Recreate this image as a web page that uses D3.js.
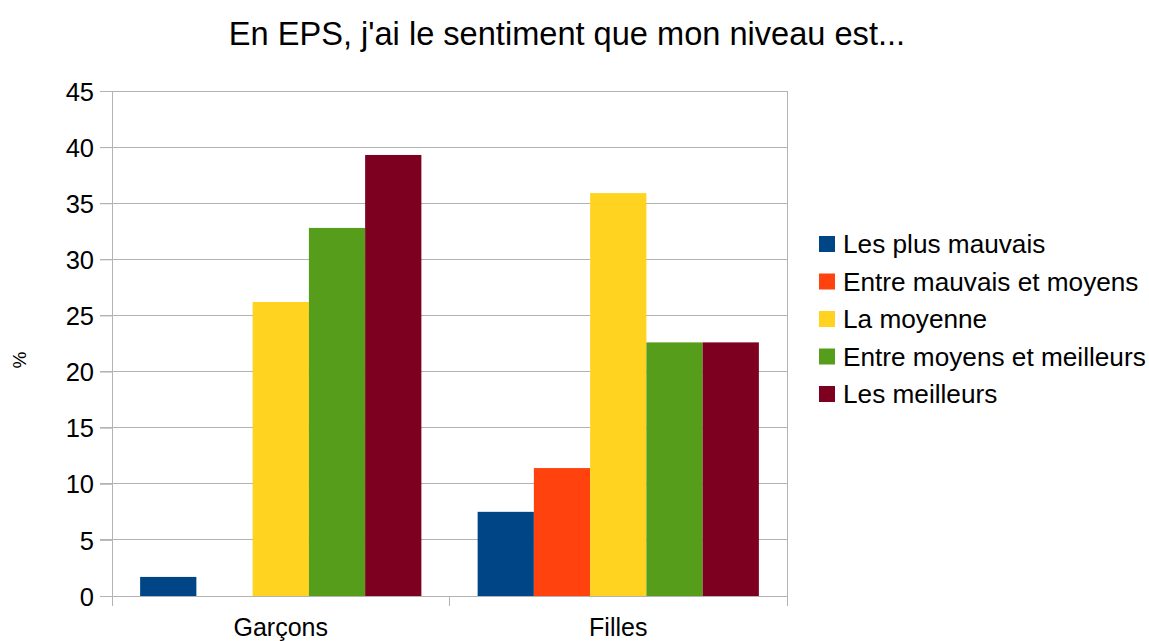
<!DOCTYPE html>
<html><head><meta charset="utf-8">
<script src="https://cdn.jsdelivr.net/npm/d3@7"></script>
<style>body{margin:0;background:#fff}text{font-family:"Liberation Sans",Arial,sans-serif;fill:#000}</style>
</head><body>
<svg id="c" width="1149" height="641"></svg>
<script>
const categories = ["Garçons", "Filles"];
const seriesNames = ["Les plus mauvais", "Entre mauvais et moyens", "La moyenne", "Entre moyens et meilleurs", "Les meilleurs"];
const garcons = [1.7, 0, 26.2, 32.8, 39.3];
const filles = [7.5, 11.4, 35.9, 22.6, 22.6];
const colors = ["#004586", "#ff420e", "#ffd320", "#579d1c", "#7e0021"];
const yTicks = [0, 5, 10, 15, 20, 25, 30, 35, 40, 45];
const title = "En EPS, j'ai le sentiment que mon niveau est...";
const yLabel = "%";

const values = [garcons, filles];
const svg = d3.select("#c");
const L = 112, R = 787, T = 91, B = 596;
const grid = "#b3b3b3";

const x = d3.scaleBand().domain(categories).range([L, R]).padding(0);
const xi = d3.scaleBand().domain(d3.range(seriesNames.length)).range([0, x.bandwidth()]).paddingInner(0).paddingOuter(0.5);
const y = d3.scaleLinear().domain([0, 45]).range([B, T]);

// gridlines
svg.append("g").selectAll("line").data(yTicks).join("line")
  .attr("x1", L - 12).attr("x2", R).attr("y1", d => y(d)).attr("y2", d => y(d))
  .attr("stroke", grid).attr("stroke-width", 1).attr("shape-rendering", "crispEdges");

// y axis
const yAxis = svg.append("g").attr("transform", `translate(${L},0)`)
  .call(d3.axisLeft(y).tickValues(yTicks).tickSize(12).tickPadding(6));
yAxis.select(".domain").remove();
yAxis.selectAll("line").attr("stroke", grid);
yAxis.selectAll("text").style("font-size", "25.5px").attr("dy", "0.36em");

// bars
const g = svg.append("g");
categories.forEach((c, ci) => {
  g.append("g").selectAll("rect").data(values[ci]).join("rect")
    .attr("x", (d, i) => x(c) + xi(i))
    .attr("width", xi.bandwidth())
    .attr("y", d => y(d))
    .attr("height", d => B - y(d))
    .attr("fill", (d, i) => colors[i]);
});

// axis lines
svg.append("line").attr("x1", L).attr("x2", L).attr("y1", T).attr("y2", B + 10).attr("stroke", grid).attr("shape-rendering", "crispEdges");
svg.append("line").attr("x1", R).attr("x2", R).attr("y1", T).attr("y2", B + 10).attr("stroke", grid).attr("shape-rendering", "crispEdges");
svg.append("line").attr("x1", L).attr("x2", R).attr("y1", B).attr("y2", B).attr("stroke", grid).attr("shape-rendering", "crispEdges");
// x axis ticks & labels
const xAxis = svg.append("g").attr("transform", `translate(0,${B})`)
  .call(d3.axisBottom(x).tickSize(0).tickPadding(0));
xAxis.select(".domain").remove();
xAxis.selectAll("text").style("font-size", "25px").attr("dy", null).attr("y", 40);
svg.append("g").selectAll("line").data([x.range()[0], x(categories[1]), x.range()[1]]).join("line")
  .attr("x1", d => d).attr("x2", d => d).attr("y1", B).attr("y2", B + 10)
  .attr("stroke", grid).attr("shape-rendering", "crispEdges");

// title
svg.append("text").attr("x", 567).attr("y", 45).attr("text-anchor", "middle").style("font-size", "32.6px").text(title);

// y label
svg.append("text").attr("transform", "translate(26,360) rotate(-90)").attr("text-anchor", "middle").style("font-size", "19px").text(yLabel);

// legend
const lg = svg.append("g").selectAll("g").data(seriesNames).join("g")
  .attr("transform", (d, i) => `translate(819,${244 + i * 37.5})`);
lg.append("rect").attr("x", 0).attr("y", -8).attr("width", 16).attr("height", 16).attr("fill", (d, i) => colors[i]);
lg.append("text").attr("x", 24).attr("y", 0).attr("dy", "0.36em").style("font-size", "26.2px").text(d => d);
</script>
</body></html>
